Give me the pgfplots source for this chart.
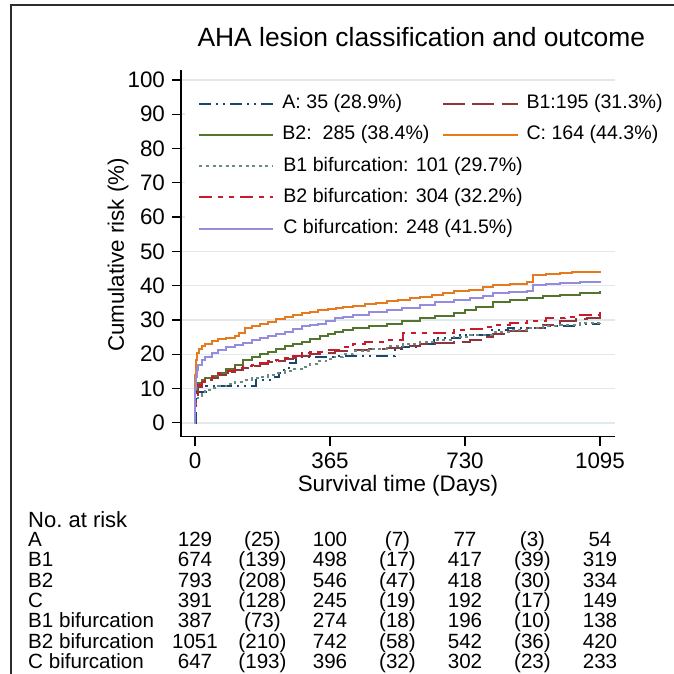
\documentclass[border=0pt]{standalone}
\usepackage{pgfplots}
\pgfplotsset{compat=1.18}
\usepackage{fontspec}
\setmainfont{Liberation Sans}
\definecolor{cA}{RGB}{26,71,111}
\definecolor{cB1}{RGB}{144,53,59}
\definecolor{cB2}{RGB}{85,117,47}
\definecolor{cC}{RGB}{230,122,30}
\definecolor{cB1b}{RGB}{105,140,130}
\definecolor{cB2b}{RGB}{200,28,45}
\definecolor{cCb}{RGB}{150,140,222}
\definecolor{gridc}{RGB}{224,233,237}
\definecolor{framec}{RGB}{45,45,45}
\newcommand{\tabfont}{\fontsize{10.3}{12}\selectfont}
\newcommand{\riskrow}[9]{%
  \node[anchor=base west,font=\tabfont] at (axis cs:-470,#1) {#2};
  \node[anchor=base,font=\tabfont] at (axis cs:0,#1) {#3};
  \node[anchor=base,font=\tabfont] at (axis cs:182.5,#1) {#4};
  \node[anchor=base,font=\tabfont] at (axis cs:365,#1) {#5};
  \node[anchor=base,font=\tabfont] at (axis cs:547.5,#1) {#6};
  \node[anchor=base,font=\tabfont] at (axis cs:730,#1) {#7};
  \node[anchor=base,font=\tabfont] at (axis cs:912.5,#1) {#8};
  \node[anchor=base,font=\tabfont] at (axis cs:1095,#1) {#9};
}
\begin{document}
\begin{tikzpicture}
\begin{axis}[
  scale only axis, width=217pt, height=183.6pt,
  xmin=-37.85, xmax=1135.6, ymin=-4.08, ymax=103,
  axis x line*=bottom, axis y line*=left,
  axis line style={line width=0.6pt, black},
  xtick={0,365,730,1095}, xticklabels={0,365,730,1095},
  ytick={0,10,20,30,40,50,60,70,80,90,100},
  yticklabels={0,10,20,30,40,50,60,70,80,90,100},
  tick align=outside, major tick length=4.5pt,
  tick style={line width=0.6pt, black},
  /pgf/number format/assume math mode=true,
  ticklabel style={font=\fontsize{11.2}{13}\selectfont},
  ymajorgrids, grid style={line width=0.7pt, gridc},
  clip=false,
  xlabel={Survival time (Days)},
  ylabel={Cumulative risk (\%)},
  label style={font=\fontsize{11.2}{13}\selectfont},
  xlabel style={at={(axis description cs:0.5,-0.1334)}, anchor=center},
  ylabel style={at={(axis description cs:-0.145,0.4955)}, anchor=center},
  legend columns=2,
  legend cell align=left,
  legend style={at={(axis cs:-27,98.4)}, anchor=north west, draw=none, fill=white,
    inner xsep=6.5pt, inner ysep=4pt, font=\fontsize{9.8}{11}\selectfont,
    nodes={inner sep=0pt, text height=7.5pt, text depth=2.5pt},
    row sep=5.6pt, column sep=0pt},
  legend image code/.code={\draw[#1] (0pt,0pt) -- (37pt,0pt); \path (41pt,0pt);},
  every axis plot/.append style={line width=1pt, const plot},
]
\addplot[cA, dash pattern=on 6pt off 2.5pt on 1pt off 2.5pt on 1pt off 2.5pt] coordinates {
(0,0) (2,8.6) (6,9.1) (30,10.8) (165,12.5) (215,13.5) (228,14.5) (240,16.0) (258,17.5) (272,19.2) (380,19.4) (541,21.5) (560,22.2) (600,22.9) (645,24.8) (716,25.7) (800,27.1) (847,27.6) (960,28.3) (1040,28.9) (1095,28.9)};
\addlegendentry{A: 35 (28.9\%)}
\addplot[cB1, dash pattern=on 11pt off 3.5pt] coordinates {
(0,0) (1,5) (3,8.0) (9,10.5) (18,11.8) (27,12.5) (45,13.2) (63,14.0) (90,14.8) (108,15.5) (130,16.0) (153,16.6) (175,17.1) (198,17.6) (220,18.0) (243,18.5) (265,19.0) (288,19.6) (310,20.0) (338,20.5) (379,20.9) (428,21.3) (470,21.6) (518,21.8) (560,22.3) (608,23.0) (650,23.4) (699,23.7) (744,24.2) (780,25.0) (807,26.0) (851,26.8) (897,27.8) (940,28.6) (987,29.8) (1030,30.3) (1060,30.7) (1095,31.3)};
\addlegendentry{B1:195 (31.3\%)}
\addplot[cB2] coordinates {
(0,0) (1,9.6) (5,11.0) (9,11.6) (18,12.5) (27,13.0) (45,13.8) (63,14.5) (85,15.6) (108,16.9) (130,18.2) (153,19.3) (175,20.1) (198,20.8) (220,21.6) (243,22.3) (265,23.0) (288,23.7) (310,24.4) (338,25.4) (360,26.0) (379,26.6) (400,27.0) (428,27.6) (470,28.2) (518,28.9) (560,29.6) (608,30.5) (650,31.2) (699,32.0) (730,32.9) (760,33.8) (807,35.3) (851,35.9) (897,36.5) (940,36.9) (987,37.4) (1040,37.9) (1095,38.4)};
\addlegendentry{B2:\ \ 285 (38.4\%)\rule{6.5pt}{0pt}}
\addplot[cC] coordinates {
(0,0) (1,14) (2,18.4) (5,20.5) (10,21.5) (20,22.5) (27,22.9) (45,24.0) (63,24.4) (85,24.7) (108,25.2) (120,26.2) (135,27.7) (153,28.2) (175,28.8) (198,29.5) (220,30.2) (243,31.0) (265,31.5) (288,32.0) (310,32.4) (333,32.8) (360,33.2) (380,33.5) (400,33.8) (428,34.1) (460,34.6) (490,35.0) (518,35.4) (550,35.8) (580,36.3) (608,36.8) (640,37.3) (670,37.8) (699,38.3) (740,38.8) (780,39.5) (807,40.2) (851,40.6) (897,41.2) (915,43.1) (950,43.5) (987,43.8) (1020,44.0) (1059,44.1) (1095,44.3)};
\addlegendentry{C: 164 (44.3\%)}
\addplot[cB1b, dash pattern=on 1.5pt off 1.8pt] coordinates {
(0,0) (1,5) (3,7.2) (9,7.9) (18,8.6) (27,9.6) (45,10.2) (63,10.6) (85,11.2) (108,12.0) (130,12.5) (153,13.0) (175,13.5) (198,14.0) (220,14.5) (243,15.0) (265,15.6) (288,16.4) (310,17.1) (333,17.9) (355,18.6) (379,19.3) (400,20.0) (428,21.0) (470,21.6) (518,22.3) (563,22.9) (608,23.5) (653,24.1) (699,25.1) (744,25.7) (807,26.5) (851,27.0) (897,27.6) (940,28.1) (987,28.4) (1040,29.0) (1095,29.7)};
\addlegendentry{\rlap{B1 bifurcation: 101 (29.7\%)}}
\addlegendimage{empty legend}
\addlegendentry{}
\addplot[cB2b, dash pattern=on 6.5pt off 3pt on 2.5pt off 3pt on 2.5pt off 3pt] coordinates {
(0,0) (1,6) (3,8.6) (9,11.0) (18,12.0) (27,12.6) (45,13.5) (63,14.5) (90,15.2) (108,16.0) (130,16.5) (153,16.9) (175,17.4) (198,17.9) (220,18.3) (243,18.8) (265,19.5) (288,20.3) (310,20.6) (333,20.8) (355,21.1) (379,21.3) (400,22.0) (428,23.0) (460,23.7) (518,24.2) (563,26.1) (653,26.2) (699,27.1) (744,27.3) (780,27.9) (807,28.6) (851,29.0) (897,29.8) (950,30.5) (1000,31.0) (1030,31.5) (1095,32.2)};
\addlegendentry{\rlap{B2 bifurcation: 304 (32.2\%)}}
\addlegendimage{empty legend}
\addlegendentry{}
\addplot[cCb] coordinates {
(0,0) (1,10) (2,13.5) (5,15.5) (9,16.9) (18,18.3) (27,19.3) (45,20.5) (63,21.3) (85,22.0) (108,22.7) (130,23.4) (153,24.2) (175,24.8) (198,25.4) (220,26.0) (243,26.6) (265,27.3) (288,28.1) (310,28.6) (333,28.9) (355,29.8) (379,30.5) (400,31.0) (428,31.5) (470,32.2) (518,32.9) (560,33.6) (608,34.4) (650,35.1) (699,35.9) (744,36.5) (780,37.0) (807,37.8) (850,38.1) (897,38.3) (915,40.2) (950,40.5) (987,40.7) (1040,41.2) (1095,41.5)};
\addlegendentry{\rlap{C bifurcation: 248 (41.5\%)}}
% title
\node[font=\fontsize{13.2}{15}\selectfont] at (axis cs:612,112.5) {AHA lesion classification and outcome};
% frame
\draw[framec, line width=1pt] (axis cs:-497.5,-80.8) -- (axis cs:-497.5,121.9) -- (axis cs:1365,121.9);
% risk table
\node[anchor=base west,font=\fontsize{11}{13}\selectfont] at (axis cs:-470,-30.61) {No.\ at risk};
\riskrow{-35.98}{A}{129}{(25)}{100}{(7)}{77}{(3)}{54}
\riskrow{-41.92}{B1}{674}{(139)}{498}{(17)}{417}{(39)}{319}
\riskrow{-47.87}{B2}{793}{(208)}{546}{(47)}{418}{(30)}{334}
\riskrow{-53.82}{C}{391}{(128)}{245}{(19)}{192}{(17)}{149}
\riskrow{-59.77}{B1 bifurcation}{387}{(73)}{274}{(18)}{196}{(10)}{138}
\riskrow{-65.72}{B2 bifurcation}{1051}{(210)}{742}{(58)}{542}{(36)}{420}
\riskrow{-71.66}{C bifurcation}{647}{(193)}{396}{(32)}{302}{(23)}{233}
\coordinate (bbtl) at (axis cs:-527.2,123.3);
\coordinate (bbbr) at (axis cs:1295.1,-73.2);
\end{axis}
\pgfresetboundingbox
\path[use as bounding box] (bbtl) rectangle (bbbr);
\end{tikzpicture}
\end{document}
